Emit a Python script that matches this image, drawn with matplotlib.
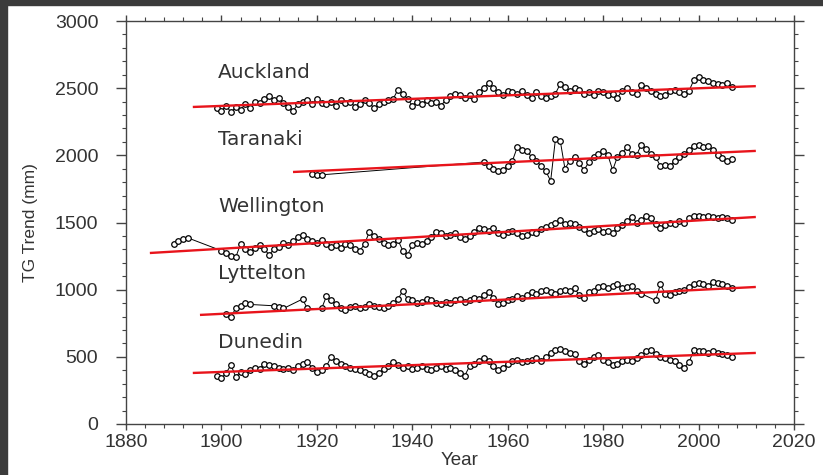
import numpy as np
import matplotlib
matplotlib.use("Agg")
import matplotlib.pyplot as plt
from matplotlib.ticker import MultipleLocator, AutoMinorLocator
from matplotlib.patches import Rectangle

plt.rcParams['font.family'] = ['Liberation Sans', 'DejaVu Sans']

# ---- annual tide-gauge trend series (mm) ----
auckland_years = list(range(1899, 2008))
auckland_vals = [
    2350, 2330, 2370, 2320, 2360, 2340, 2380, 2350, 2400, 2390,
    2420, 2440, 2410, 2430, 2390, 2360, 2330, 2380, 2400, 2410,
    2380, 2420, 2390, 2380, 2400, 2370, 2410, 2390, 2400, 2360,
    2380, 2410, 2390, 2350, 2380, 2400, 2410, 2420, 2490, 2460,
    2420, 2370, 2400, 2380, 2410, 2390, 2400, 2370, 2410, 2440,
    2460, 2450, 2430, 2450, 2420, 2470, 2500, 2540, 2500, 2470,
    2450, 2480, 2470, 2460, 2480, 2450, 2430, 2470, 2440, 2430,
    2440, 2460, 2530, 2510, 2480, 2500, 2490, 2460, 2470, 2450,
    2480, 2470, 2450, 2460, 2430, 2480, 2500, 2470, 2460, 2520,
    2500, 2480, 2460, 2440, 2450, 2480, 2490, 2470, 2460, 2480,
    2560, 2580, 2560, 2550, 2540, 2530, 2520, 2540, 2510,
]

taranaki_years = [1919, 1920, 1921] + list(range(1955, 2008))
taranaki_vals = [
    1860, 1850, 1855,
    1950, 1920, 1900, 1880, 1890, 1920, 1960, 2060, 2040, 2030,
    1990, 1960, 1920, 1880, 1810, 2120, 2110, 1900, 1960, 1990,
    1940, 1890, 1950, 1990, 2010, 2030, 2000, 1890, 1990, 2020,
    2060, 2010, 2000, 2080, 2050, 2010, 1990, 1920, 1930, 1920,
    1960, 1990, 2010, 2040, 2070, 2080, 2060, 2070, 2040, 2000,
    1980, 1960, 1970,
]

wellington_years = [1890, 1891, 1892, 1893] + list(range(1900, 2008))
wellington_vals = [
    1340, 1360, 1380, 1385,
    1290, 1270, 1250, 1240, 1340, 1300, 1280, 1310, 1330, 1300,
    1260, 1300, 1320, 1350, 1330, 1360, 1390, 1410, 1380, 1360,
    1350, 1370, 1340, 1320, 1330, 1310, 1340, 1330, 1300, 1290,
    1340, 1430, 1400, 1380, 1350, 1330, 1340, 1370, 1290, 1260,
    1330, 1350, 1340, 1360, 1390, 1430, 1420, 1400, 1410, 1420,
    1390, 1380, 1400, 1430, 1460, 1450, 1440, 1460, 1420, 1410,
    1430, 1440, 1420, 1400, 1410, 1430, 1420, 1450, 1470, 1480,
    1500, 1520, 1490, 1500, 1490, 1470, 1450, 1420, 1440, 1450,
    1430, 1440, 1420, 1460, 1480, 1510, 1540, 1500, 1520, 1550,
    1530, 1490, 1460, 1480, 1500, 1490, 1510, 1500, 1530, 1550,
    1550, 1540, 1550, 1540, 1530, 1540, 1530, 1520,
]

lyttelton_years = ([1901, 1902, 1903, 1904, 1905, 1906, 1911, 1912, 1913,
                    1917, 1918] + list(range(1921, 1989))
                   + list(range(1991, 2008)))
lyttelton_vals = [
    820, 800, 860, 880, 900, 890, 880, 870, 860,
    930, 860,
    860, 950, 920, 890, 860, 850, 870, 880, 860, 870,
    890, 880, 870, 860, 880, 900, 930, 990, 930, 920,
    900, 910, 930, 920, 900, 890, 910, 900, 920, 930,
    910, 920, 940, 930, 960, 980, 940, 890, 900, 920,
    930, 950, 940, 960, 980, 970, 990, 1000, 980, 970,
    990, 1000, 990, 1010, 960, 940, 980, 990, 1020, 1030,
    1010, 1030, 1040, 1010, 1020, 1030, 990, 970,
    920, 1040, 970, 960, 980, 990, 1000, 1020, 1040, 1050,
    1040, 1030, 1060, 1050, 1040, 1030, 1010,
]

dunedin_years = list(range(1899, 2008))
dunedin_vals = [
    360, 340, 380, 440, 350, 390, 370, 400, 420, 410,
    450, 440, 430, 420, 410, 420, 400, 430, 450, 460,
    420, 390, 400, 430, 500, 470, 450, 430, 420, 410,
    400, 390, 370, 360, 380, 410, 430, 460, 440, 420,
    430, 410, 420, 430, 410, 400, 420, 430, 410, 420,
    400, 380, 360, 430, 450, 470, 490, 470, 430, 400,
    420, 450, 470, 480, 460, 470, 480, 490, 470, 500,
    530, 550, 560, 540, 530, 520, 470, 450, 480, 500,
    510, 480, 460, 440, 450, 470, 480, 470, 490, 510,
    540, 550, 520, 500, 490, 480, 470, 440, 420, 460,
    550, 540, 540, 530, 540, 530, 520, 510, 500,
]

# linear trend segments (year range and trend values at the ends)
station_names = ["Auckland", "Taranaki", "Wellington", "Lyttelton", "Dunedin"]
trend_start_year = [1894, 1915, 1885, 1895.5, 1894]
trend_end_year = [2012, 2012, 2012, 2012, 2012]
trend_start_val = [2360, 1876, 1273, 812, 380]
trend_end_val = [2515, 2033, 1541, 1020, 529]
label_vals = [2620, 2115, 1616, 1117, 610]

series = [
    (auckland_years, auckland_vals),
    (taranaki_years, taranaki_vals),
    (wellington_years, wellington_vals),
    (lyttelton_years, lyttelton_vals),
    (dunedin_years, dunedin_vals),
]

W, H = 823, 475
fig = plt.figure(figsize=(W / 100, H / 100), dpi=100, facecolor="white")

# dark frame strips along the top and left edges
fig.patches.append(Rectangle((0, 1 - 5 / H), 1, 5 / H, transform=fig.transFigure,
                             color="#3b3b3b", zorder=-1))
fig.patches.append(Rectangle((0, 0), 7 / W, 1, transform=fig.transFigure,
                             color="#3b3b3b", zorder=-1))

ax = fig.add_axes([126 / W, (H - 424) / H, (794 - 126) / W, (424 - 21) / H])

for (yrs, vals) in series:
    ax.plot(yrs, vals, color="black", lw=0.7, marker="o", markersize=4.0,
            markerfacecolor="white", markeredgecolor="black",
            markeredgewidth=0.9, zorder=2)

for i, name in enumerate(station_names):
    ax.plot([trend_start_year[i], trend_end_year[i]],
            [trend_start_val[i], trend_end_val[i]],
            color="#e8141b", lw=1.7, zorder=3, solid_capstyle="butt")
    ax.text(1899.3, label_vals[i], name, fontsize=14.5, color="#333333",
            ha="left", va="center", family="DejaVu Sans")

ax.set_xlim(1880, 2020)
ax.set_ylim(0, 3000)
ax.xaxis.set_major_locator(MultipleLocator(20))
ax.xaxis.set_minor_locator(AutoMinorLocator(5))
ax.yaxis.set_major_locator(MultipleLocator(500))
ax.yaxis.set_minor_locator(AutoMinorLocator(5))

for sp in ax.spines.values():
    sp.set_color("#444444")
    sp.set_linewidth(1.0)

ax.tick_params(which="both", direction="out", top=True, right=True,
               colors="#444444", labelcolor="#333333")
ax.tick_params(axis="x", which="major", length=4, width=1.0, labelsize=14, pad=3)
ax.tick_params(axis="y", which="major", length=7, width=1.0, labelsize=14, pad=13)
ax.tick_params(which="minor", length=3, width=0.8)

ax.set_xlabel("Year", fontsize=13.5, color="#333333", labelpad=1)
ax.set_ylabel("TG Trend (mm)", fontsize=12.5, color="#333333", labelpad=12)

fig.savefig("out.png", dpi=100, facecolor="white")
